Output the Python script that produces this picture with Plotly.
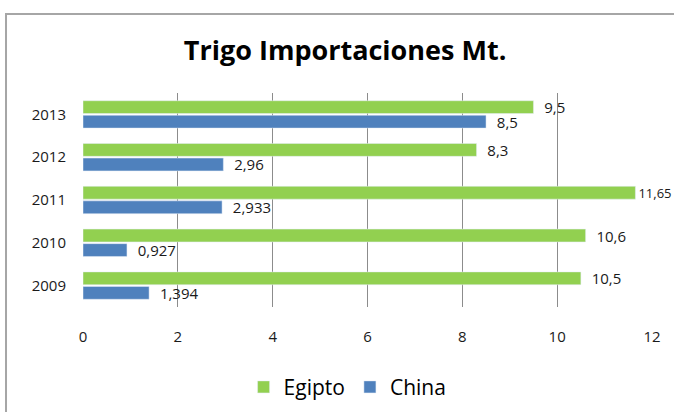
import plotly.graph_objects as go

years = ["2009", "2010", "2011", "2012", "2013"]
egipto = [10.5, 10.6, 11.65, 8.3, 9.5]
china = [1.394, 0.927, 2.933, 2.96, 8.5]
egipto_labels = ["  10,5", "  10,6", "11,65", "  8,3", "  9,5"]
china_labels = ["  1,394", "  0,927", "  2,933", "  2,96", "  8,5"]
x_ticks = [0, 2, 4, 6, 8, 10, 12]

FONT = "Open Sans"
TXT = "#1a1a1a"

fig = go.Figure()
fig.add_trace(go.Bar(
    y=years, x=china, orientation="h", name="China",
    marker=dict(color="#4F81BD"),
    text=china_labels, textposition="outside", constraintext="none",
    textfont=dict(family=FONT, size=15, color=TXT),
    cliponaxis=False,
))
fig.add_trace(go.Bar(
    y=years, x=egipto, orientation="h", name="Egipto",
    marker=dict(color="#92D050"),
    text=egipto_labels, textposition="outside", constraintext="none",
    textfont=dict(family=FONT, size=[15, 15, 13, 15, 15], color=TXT),
    cliponaxis=False,
))

fig.update_layout(
    width=674, height=412,
    margin=dict(l=83, r=22, t=93, b=105, autoexpand=False),
    paper_bgcolor="white", plot_bgcolor="white",
    barmode="group", bargap=0.32, bargroupgap=0.12,
    title=dict(text="<b>Trigo Importaciones Mt.</b>", x=0.512, xanchor="center",
               y=0.878, yanchor="middle",
               font=dict(family=FONT, size=27, color="black")),
    xaxis=dict(range=[0, 12], tickvals=x_ticks, showgrid=True, gridcolor="#8C8C8C",
               gridwidth=1, zeroline=False, showline=False, automargin=False,
               tickfont=dict(family=FONT, size=15, color=TXT),
               ticklabelstandoff=19, fixedrange=True),
    yaxis=dict(type="category", categoryorder="array", categoryarray=years,
               showgrid=False, showline=False, zeroline=False, automargin=False,
               tickfont=dict(family=FONT, size=15, color=TXT),
               ticklabelstandoff=16),
    legend=dict(orientation="h", x=0.465, xanchor="center", y=-0.375, yanchor="middle",
                traceorder="reversed", font=dict(family=FONT, size=21, color="black"),
                itemwidth=30),
    showlegend=True,
    shapes=[dict(type="rect", xref="paper", yref="paper",
                 x0=-0.1353, x1=1.2, y0=-1.0, y1=1.369,
                 line=dict(color="#A6A6A6", width=2), fillcolor="rgba(0,0,0,0)",
                 layer="below")],
)

fig.write_html("out.html", config={"displayModeBar": False},
               post_script="document.body.style.margin='0';")
